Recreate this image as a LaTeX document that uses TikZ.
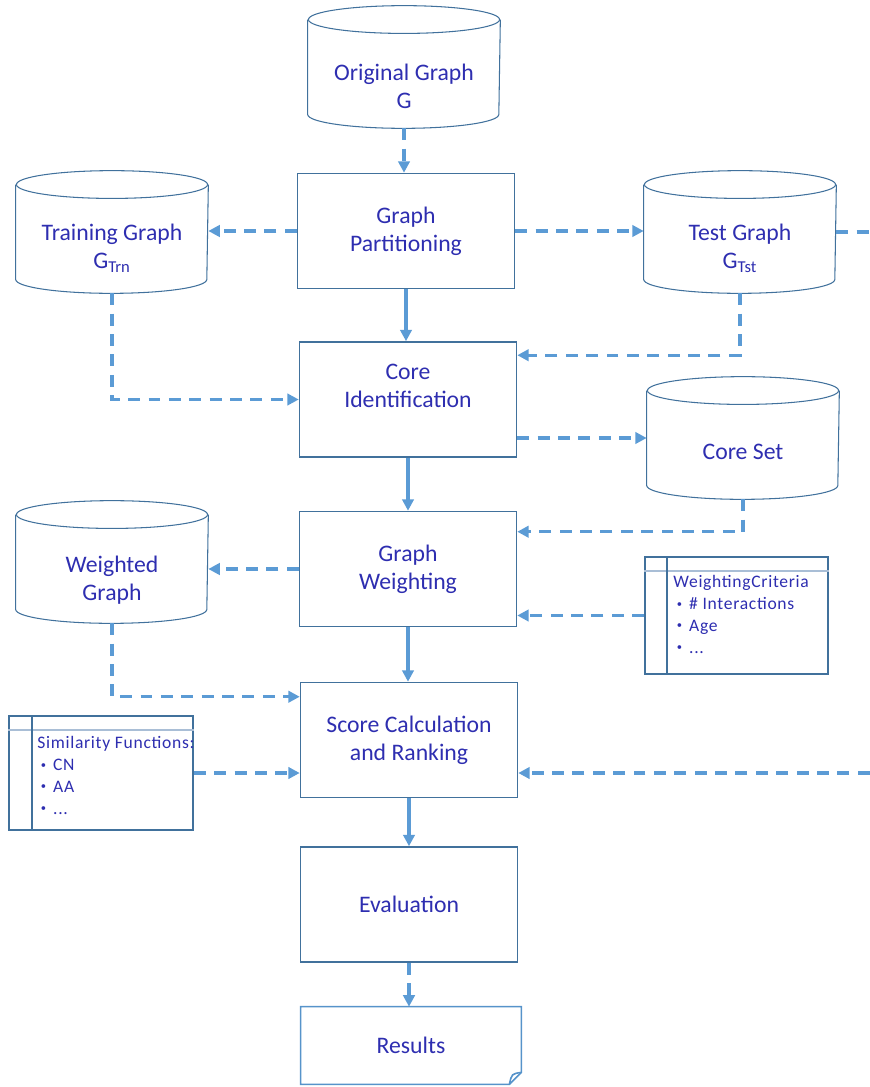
\documentclass[tikz,border=0pt]{standalone}
\usepackage{fontspec}
\setmainfont{Carlito}
\newfontfamily\notefont[LetterSpace=4.0]{Carlito}
\usetikzlibrary{calc, positioning}
\usetikzlibrary{arrows.meta}

\definecolor{flowblue}{HTML}{5B9BD5}
\definecolor{edgeblue}{HTML}{41719C}
\definecolor{inkblue}{RGB}{46,46,176}
\definecolor{rulegray}{HTML}{A9BED6}

\newcommand{\cylrx}{54.4pt}
\newcommand{\cylry}{7.9pt}
\newcommand{\drawdb}[1]{%
  \draw[dbline] ([yshift=-\cylry]#1.north) ellipse [x radius=\cylrx, y radius=\cylry];
  \draw[dbline] ([yshift=-\cylry]#1.north west) -- ([yshift=\cylry]#1.south west)
    arc[start angle=180, end angle=360, x radius=\cylrx, y radius=\cylry]
    -- ([yshift=-\cylry]#1.north east);}
\newcommand{\notebullet}{\hspace*{2pt}\raisebox{0.3ex}{\fontsize{6}{6}\selectfont\textbullet}\hspace{4pt}}

\begin{document}
\begin{tikzpicture}[x=0.02cm, y=-0.02cm,
  procbox/.style={draw=edgeblue, line width=0.9pt, minimum width=4.34cm, minimum height=2.3cm, inner sep=0pt},
  dbbox/.style={minimum width=3.84cm, minimum height=2.44cm, inner sep=0pt},
  dbline/.style={draw=edgeblue, line width=0.6pt},
  docline/.style={draw=flowblue!80!edgeblue, line width=0.9pt},
  maintext/.style={text=inkblue, font=\fontsize{13.5}{16}\selectfont, align=center},
  notebox/.style={draw=edgeblue, line width=1pt, inner sep=0pt},
  noteline/.style={draw=edgeblue, line width=1pt},
  notetext/.style={text=inkblue, font=\notefont\fontsize{10}{12.5}\selectfont, align=left, inner sep=0pt, anchor=north west},
  flowdash/.style={draw=flowblue, line width=1.8pt, dash pattern=on 6.8pt off 4.8pt, -{Triangle[length=6.5pt,width=6.5pt]}},
  flowsolid/.style={draw=flowblue, line width=1.8pt, -{Triangle[length=6.5pt,width=6.5pt]}}]

\useasboundingbox (0,0) rectangle (869,1087);

\node[dbbox] (orig) at (404,67) {};
\node[dbbox] (trn) at (112,232) {};
\node[dbbox] (tst) at (740,232) {};
\node[dbbox] (coreset) at (743,438) {};
\node[dbbox] (wtd) at (112,562) {};
\drawdb{orig}
\drawdb{trn}
\drawdb{tst}
\drawdb{coreset}
\drawdb{wtd}

\node[maintext] (origtext) at (404,86) {Original Graph\\G};
\node[maintext] (trntext) at (112,248) {Training Graph\\G\textsubscript{Trn}};
\node[maintext] (tsttext) at (740,248) {Test Graph\\G\textsubscript{Tst}};
\node[maintext] (coresettext) at (743,452) {Core Set};
\node[maintext] (wtdtext) at (112,580) {Weighted\\Graph};

\node[procbox, maintext] (part) at (406,231) {Graph\\Partitioning};
\node[procbox] (core) at (408,399.5) {};
\node[maintext] (coretext) at (408,386) {Core\\Identification};
\node[procbox, maintext] (wgt) at (408,569) {Graph\\Weighting};
\node[procbox, maintext] (score) at (409,740) {Score Calculation\\and Ranking};
\node[procbox, maintext] (eval) at (409,904.5) {Evaluation};

\node[maintext, minimum width=4.4cm, minimum height=1.54cm, inner sep=0pt] (res) at (411,1045.5) {Results};
\draw[docline] (res.north west) -- (res.north east) -- ([yshift=6.8pt]res.south east)
  -- ([xshift=-6.8pt]res.south east) -- (res.south west) -- cycle;
\draw[docline] ([xshift=-6.8pt]res.south east) .. controls ([xshift=-5.5pt,yshift=6pt]res.south east) .. ([yshift=6.8pt]res.south east);

\node[notebox, minimum width=3.66cm, minimum height=2.34cm] (crit) at (736.5,615.5) {};
\draw[rulegray, line width=1.4pt] ($(crit.north west)+(0,15)$) -- ($(crit.north east)+(0,15)$);
\draw[noteline] ($(crit.north west)+(23,0)$) -- ($(crit.south west)+(23,0)$);
\node[notetext] (crittext) at (673,575) {WeightingCriteria\\
  \notebullet\# Interactions\\
  \notebullet Age\\
  \notebullet ...};

\node[notebox, minimum width=3.68cm, minimum height=2.28cm] (sim) at (101,773) {};
\draw[rulegray, line width=1.4pt] ($(sim.north west)+(0,15)$) -- ($(sim.north east)+(0,15)$);
\draw[noteline] ($(sim.north west)+(24,0)$) -- ($(sim.south west)+(24,0)$);
\node[notetext] (simtext) at (37,736) {Similarity Functions:\\
  \notebullet CN\\
  \notebullet AA\\
  \notebullet ...};

\coordinate (rim) at (878,773);

\draw[flowdash] (orig.south) -- (orig.south |- part.north);
\draw[flowdash] (part.west) -- (part.west -| trn.east);
\draw[flowdash] (part.east) -- (part.east -| tst.west);
\draw[flowdash] (tst.east) -| (rim) -- (rim -| score.east);
\draw[flowsolid] (part.south) -- (part.south |- core.north);
\draw[flowdash] (trn.south) |- (core.west);
\draw[flowdash] (tst.south) |- ($(core.north east)+(0,14)$);
\draw[flowdash] (core.east |- coreset.west) -- (coreset.west);
\draw[flowsolid] (core.south) -- (core.south |- wgt.north);
\draw[flowdash] (coreset.south) |- ($(wgt.north east)+(0,21)$);
\draw[flowdash] (wgt.west) -- (wgt.west -| wtd.east);
\draw[flowdash] (crit.west) -- (crit.west -| wgt.east);
\draw[flowsolid] (wgt.south) -- (wgt.south |- score.north);
\draw[flowdash] (wtd.south) |- ($(score.north west)+(0,15)$);
\draw[flowdash] (sim.east) -- (sim.east -| score.west);
\draw[flowsolid] (score.south) -- (score.south |- eval.north);
\draw[flowdash] (eval.south) -- (eval.south |- res.north);
\end{tikzpicture}
\end{document}
